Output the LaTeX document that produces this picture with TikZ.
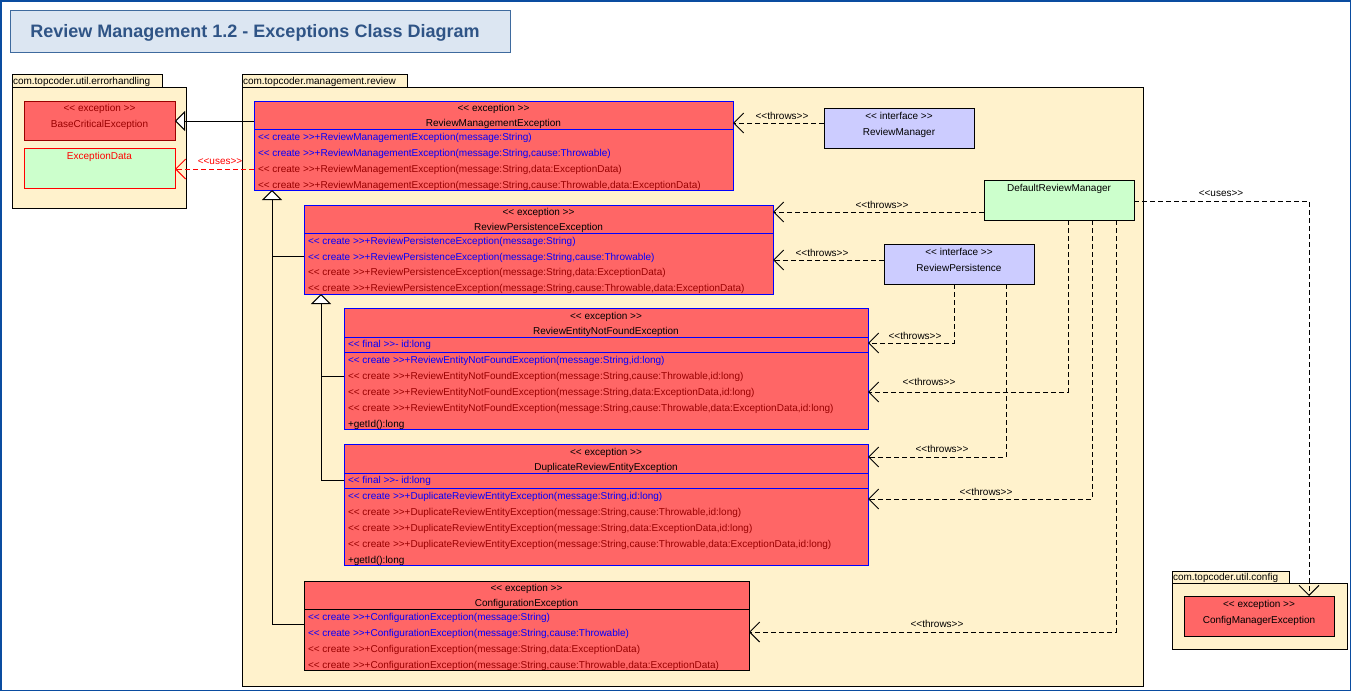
\documentclass[tikz,border=0pt]{standalone}
\usepackage{fontspec}
\setmainfont{Liberation Sans}[Ligatures=TeXOff]
\usetikzlibrary{arrows.meta}
\definecolor{pkgfill}{HTML}{FFF2CC}
\definecolor{clsred}{HTML}{FF6666}
\definecolor{clsblue}{HTML}{0000FF}
\definecolor{darkred}{HTML}{990000}
\definecolor{greenfill}{HTML}{CCFFCC}
\definecolor{ifacefill}{HTML}{CCCCFF}
\definecolor{titlefill}{HTML}{DCE6F2}
\definecolor{titleborder}{HTML}{3E6A9E}
\definecolor{titletext}{HTML}{2F5486}
\definecolor{framecol}{HTML}{0A4CA0}
\newcommand\umlbox[6]{\node[#6, anchor=north west, minimum width={(#4-#2)*1pt}, minimum height={(#5-#3)*1pt}] (#1) at (#2,#3) {};}
\begin{document}
\begin{tikzpicture}[x=1pt,y=-1pt,
  every node/.style={inner sep=0pt, outer sep=0pt, text height=7pt, text depth=0pt, font=\fontsize{10}{12}\selectfont},
  pkg/.style={draw=black, fill=pkgfill, line width=1pt},
  cls/.style={draw=clsblue, fill=clsred, line width=1pt},
  row/.style={anchor=west},
  rowb/.style={anchor=west, text=clsblue},
  rowr/.style={anchor=west, text=darkred},
  dep/.style={draw=black, line width=1pt, dash pattern=on 5pt off 3pt, -{Straight Barb[length=10pt,width=20pt]}},
  gen/.style={draw=black, line width=1pt, -{Triangle[open,length=10pt,width=20pt,fill=white]}},
  genl/.style={draw=black, line width=1pt},
  div/.style={draw=clsblue, line width=1pt}]
\useasboundingbox (0,0) rectangle (1351,691);
\fill[white] (0,0) rectangle (1351,691);
\draw[framecol, line width=1.5pt] (0.75,0.75) rectangle (1350.25,690.25);

% title
\node[draw=titleborder, fill=titlefill, line width=1pt, minimum width=500pt, minimum height=42pt, anchor=north west] (title) at (10,10) {};
\node[text height=13pt, font=\bfseries\fontsize{18}{20}\selectfont, text=titletext] (titletxt) at (255,31) {Review Management 1.2 - Exceptions Class Diagram};

% packages
\umlbox{p1tab}{12}{74}{162}{87}{pkg}
\umlbox{p1}{12}{87}{186}{208}{pkg}
\node[anchor=west] (p1lbl) at (13,80.5) {com.topcoder.util.errorhandling};
\umlbox{p2tab}{242}{74}{407}{87}{pkg}
\umlbox{p2}{242}{87}{1143}{686}{pkg}
\node[anchor=west] (p2lbl) at (243,80.5) {com.topcoder.management.review};
\umlbox{p3tab}{1172}{571}{1289}{583}{pkg}
\umlbox{p3}{1172}{583}{1347}{649}{pkg}
\node[anchor=west] (p3lbl) at (1173,577) {com.topcoder.util.config};

% errorhandling classes
\umlbox{bce}{24}{101}{175}{140}{draw=darkred, fill=clsred, line width=1pt}
\node[text=darkred] (bceA) at (99.5,108) {<< exception >>};
\node[text=darkred] (bceB) at (99.5,124) {BaseCriticalException};
\umlbox{ed}{24}{148}{175}{188}{draw=red, fill=greenfill, line width=1pt}
\node[text=red] (edA) at (99.5,156) {ExceptionData};

% ReviewManagementException
\umlbox{rme}{254}{101}{733}{190}{cls}
\draw[div] (254,129) -- (733,129);
\node (rmeA) at (493.5,108) {<< exception >>};
\node (rmeB) at (493.5,123) {ReviewManagementException};
\node[rowb] (rme1) at (258,137) {<< create >>+ReviewManagementException(message:String)};
\node[rowb] (rme2) at (258,153) {<< create >>+ReviewManagementException(message:String,cause:Throwable)};
\node[rowr] (rme3) at (258,169) {<< create >>+ReviewManagementException(message:String,data:ExceptionData)};
\node[rowr] (rme4) at (258,185) {<< create >>+ReviewManagementException(message:String,cause:Throwable,data:ExceptionData)};

% ReviewPersistenceException
\umlbox{rpe}{304}{205}{773}{294}{cls}
\draw[div] (304,233) -- (773,233);
\node (rpeA) at (538.5,212) {<< exception >>};
\node (rpeB) at (538.5,227) {ReviewPersistenceException};
\node[rowb] (rpe1) at (308,241) {<< create >>+ReviewPersistenceException(message:String)};
\node[rowb] (rpe2) at (308,256.5) {<< create >>+ReviewPersistenceException(message:String,cause:Throwable)};
\node[rowr] (rpe3) at (308,272) {<< create >>+ReviewPersistenceException(message:String,data:ExceptionData)};
\node[rowr] (rpe4) at (308,288) {<< create >>+ReviewPersistenceException(message:String,cause:Throwable,data:ExceptionData)};

% ReviewEntityNotFoundException
\umlbox{renfe}{344}{308}{868}{429}{cls}
\draw[div] (344,337) -- (868,337);
\draw[div] (344,352) -- (868,352);
\node (renfeA) at (606,316) {<< exception >>};
\node (renfeB) at (606,331) {ReviewEntityNotFoundException};
\node[rowb] (renfe0) at (348,344) {<< final >>- id:long};
\node[rowb] (renfe1) at (348,360) {<< create >>+ReviewEntityNotFoundException(message:String,id:long)};
\node[rowr] (renfe2) at (348,376) {<< create >>+ReviewEntityNotFoundException(message:String,cause:Throwable,id:long)};
\node[rowr] (renfe3) at (348,391.5) {<< create >>+ReviewEntityNotFoundException(message:String,data:ExceptionData,id:long)};
\node[rowr] (renfe4) at (348,407.5) {<< create >>+ReviewEntityNotFoundException(message:String,cause:Throwable,data:ExceptionData,id:long)};
\node[row] (renfe5) at (348,423.5) {+getId():long};

% DuplicateReviewEntityException
\umlbox{dree}{344}{444}{868}{565}{cls}
\draw[div] (344,473) -- (868,473);
\draw[div] (344,488) -- (868,488);
\node (dreeA) at (606,452) {<< exception >>};
\node (dreeB) at (606,467) {DuplicateReviewEntityException};
\node[rowb] (dree0) at (348,480) {<< final >>- id:long};
\node[rowb] (dree1) at (348,495.5) {<< create >>+DuplicateReviewEntityException(message:String,id:long)};
\node[rowr] (dree2) at (348,511.5) {<< create >>+DuplicateReviewEntityException(message:String,cause:Throwable,id:long)};
\node[rowr] (dree3) at (348,527.5) {<< create >>+DuplicateReviewEntityException(message:String,data:ExceptionData,id:long)};
\node[rowr] (dree4) at (348,543.5) {<< create >>+DuplicateReviewEntityException(message:String,cause:Throwable,data:ExceptionData,id:long)};
\node[row] (dree5) at (348,559.5) {+getId():long};

% ConfigurationException
\umlbox{ce}{304}{581}{749}{670}{draw=black, fill=clsred, line width=1pt}
\draw[black, line width=1pt] (304,609) -- (749,609);
\node (ceA) at (526.5,588) {<< exception >>};
\node (ceB) at (526.5,603) {ConfigurationException};
\node[rowb] (ce1) at (308,617) {<< create >>+ConfigurationException(message:String)};
\node[rowb] (ce2) at (308,632.5) {<< create >>+ConfigurationException(message:String,cause:Throwable)};
\node[rowr] (ce3) at (308,648.5) {<< create >>+ConfigurationException(message:String,data:ExceptionData)};
\node[rowr] (ce4) at (308,664.5) {<< create >>+ConfigurationException(message:String,cause:Throwable,data:ExceptionData)};

% interfaces and manager
\umlbox{rm}{824}{108}{974}{148}{draw=black, fill=ifacefill, line width=1pt}
\node (rmA) at (899,116) {<< interface >>};
\node (rmB) at (899,132) {ReviewManager};
\umlbox{drm}{984}{180}{1134}{220}{draw=black, fill=greenfill, line width=1pt}
\node (drmA) at (1059,188) {DefaultReviewManager};
\umlbox{rp}{884}{244}{1034}{284}{draw=black, fill=ifacefill, line width=1pt}
\node (rpA) at (959,252) {<< interface >>};
\node (rpB) at (959,268) {ReviewPersistence};

% ConfigManagerException
\umlbox{cme}{1184}{596}{1334}{636}{draw=black, fill=clsred, line width=1pt}
\node (cmeA) at (1259,604) {<< exception >>};
\node (cmeB) at (1259,620) {ConfigManagerException};

% generalizations
\draw[gen] (rme.west |- 0,121) -- (bce.east |- 0,121);
\draw[gen] (ce.west |- 0,624) -| (rme.south -| 272,0);
\draw[genl] (rpe.west |- 0,256) -- (272,256);
\draw[gen] (dree.west |- 0,480) -| (rpe.south -| 321,0);
\draw[genl] (renfe.west |- 0,376) -- (321,376);

% uses
\draw[dep, draw=red] (rme.west |- 0,169) -- (ed.east |- 0,169);
\node[text=red] (u1) at (220,161) {<<uses>>};
\draw[dep] (drm.east |- 0,201) -| (cme.north -| 1309,0);
\node (u2) at (1221,193) {<<uses>>};

% throws
\draw[dep] (rm.west |- 0,123) -- (rme.east |- 0,123);
\node (t1) at (782,116) {<<throws>>};
\draw[dep] (drm.west |- 0,212) -- (rpe.east |- 0,212);
\node (t2) at (882,205) {<<throws>>};
\draw[dep] (rp.west |- 0,260) -- (rpe.east |- 0,260);
\node (t3) at (822,253) {<<throws>>};
\draw[dep] (rp.south -| 954,0) |- (renfe.east |- 0,343);
\node (t4) at (915,336) {<<throws>>};
\draw[dep] (drm.south -| 1068,0) |- (renfe.east |- 0,392);
\node (t5) at (929,382) {<<throws>>};
\draw[dep] (rp.south -| 1006,0) |- (dree.east |- 0,457);
\node (t6) at (942,449) {<<throws>>};
\draw[dep] (drm.south -| 1092,0) |- (dree.east |- 0,499);
\node (t7) at (986,492) {<<throws>>};
\draw[dep] (drm.south -| 1116,0) |- (ce.east |- 0,632);
\node (t8) at (937,624) {<<throws>>};
\end{tikzpicture}
\end{document}
